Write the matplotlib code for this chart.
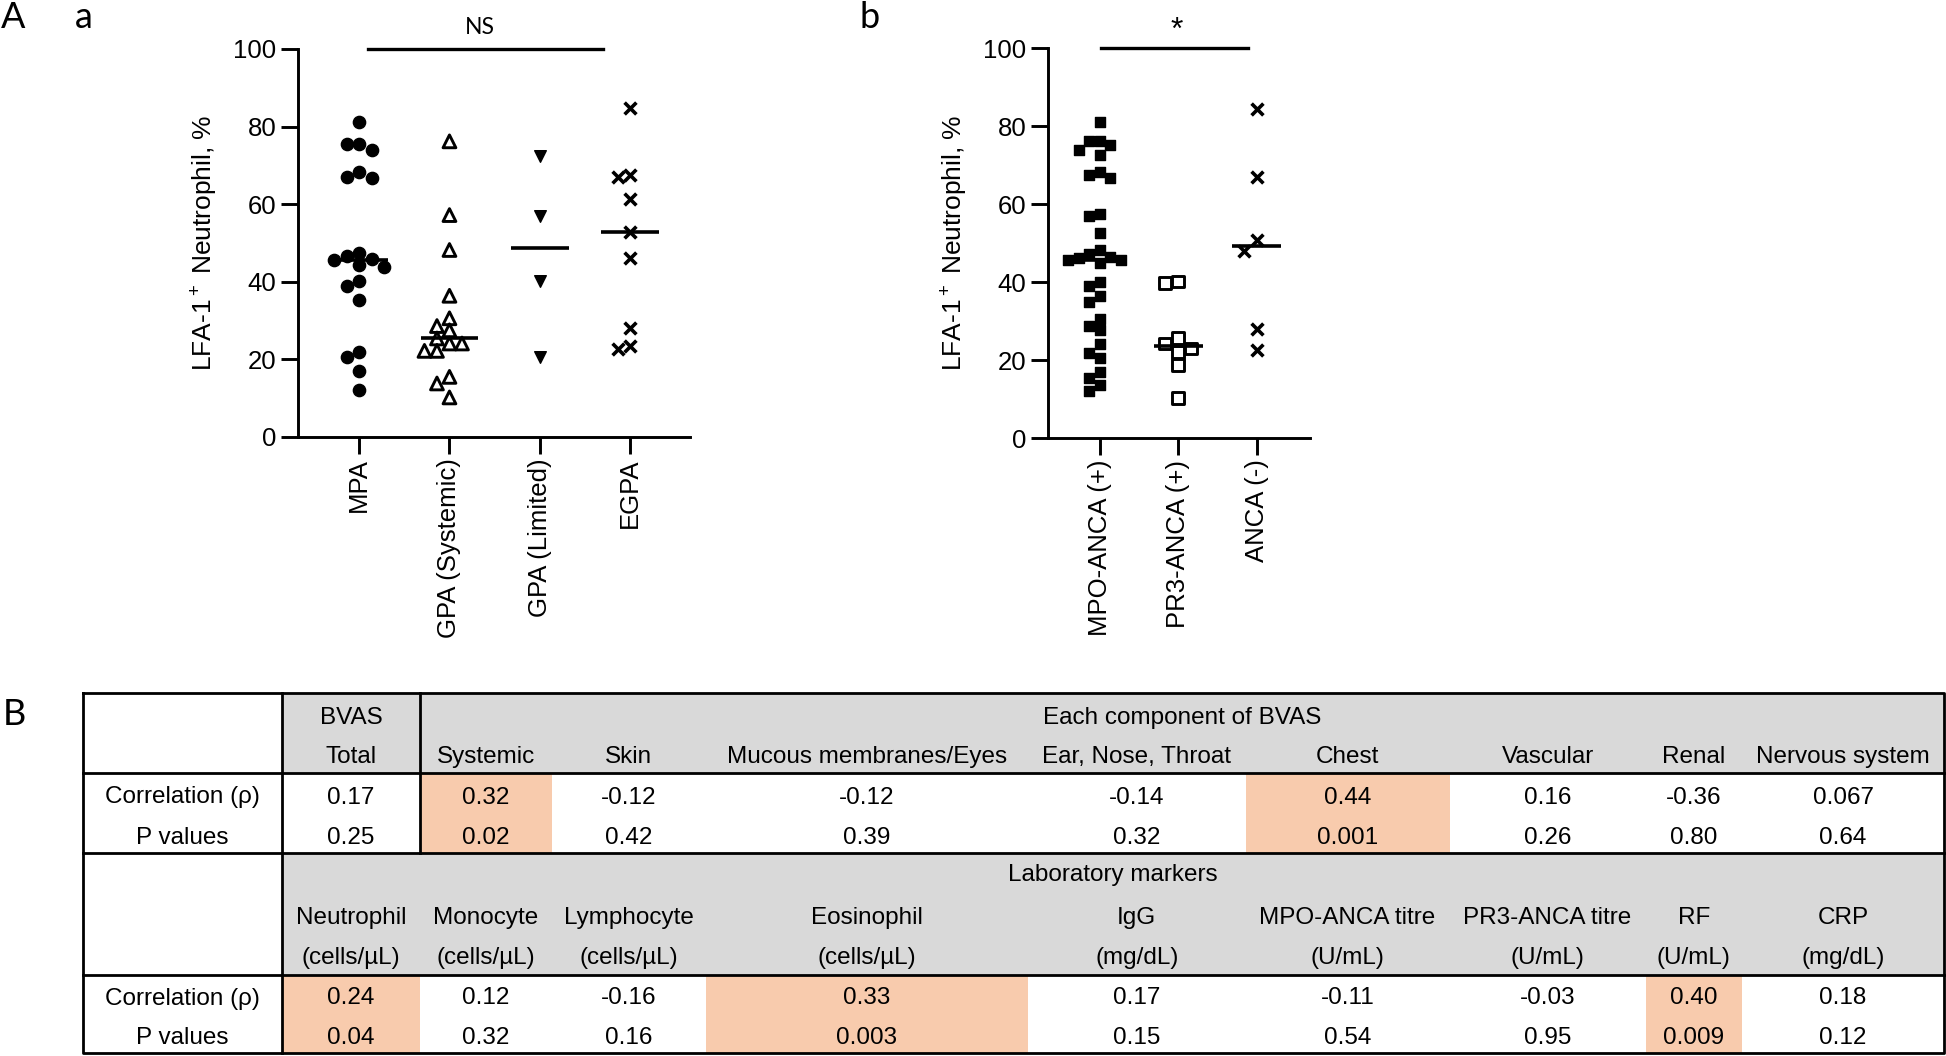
import numpy as np
import matplotlib.pyplot as plt
from matplotlib.patches import Rectangle

plt.rcParams['font.family'] = ['Liberation Sans', 'DejaVu Sans']
plt.rcParams['mathtext.fontset'] = 'custom'
plt.rcParams['mathtext.rm'] = 'Liberation Sans'
plt.rcParams['mathtext.it'] = 'Liberation Sans:italic'
plt.rcParams['mathtext.bf'] = 'Liberation Sans:bold'

W, H = 1946, 1056

# panel a: LFA-1+ neutrophils by disease
groups_a = ['MPA', 'GPA (Systemic)', 'GPA (Limited)', 'EGPA']
mpa = [81.2, 74.0, 75.6, 75.6, 66.7, 68.4, 66.9, 46.7, 47.5, 45.6, 45.8, 44.3,
       43.9, 39.0, 40.2, 35.3, 20.7, 21.9, 17.0, 12.2]
gpa_sys = [76.2, 57.2, 48.2, 36.4, 30.6, 28.6, 27.5, 25.4, 24.1, 24.1, 22.2,
           22.2, 15.5, 13.8, 10.2]
gpa_lim = [72.5, 57.0, 40.2, 20.5]
egpa = [84.9, 66.9, 67.6, 61.3, 52.8, 46.2, 28.0, 22.8, 23.4]

# panel b: by ANCA type
groups_b = ['MPO-ANCA (+)', 'PR3-ANCA (+)', 'ANCA (-)']
mpo = [80.9, 76.1, 72.5, 76.1, 73.9, 75.2, 66.6, 68.3, 67.4, 56.8, 57.4, 52.5,
       45.6, 47.3, 45.6, 48.2, 46.2, 44.8, 46.5, 39.0, 40.1, 35.0, 36.3, 30.5,
       27.7, 28.7, 24.0, 20.6, 21.9, 15.5, 12.1, 17.0, 13.6]
pr3 = [39.7, 40.1, 25.6, 22.1, 23.0, 24.3, 18.7, 10.2]
anca_neg = [84.4, 66.8, 47.9, 50.7, 27.9, 22.6]

# table B
bvas_cols = ['Total', 'Systemic', 'Skin', 'Mucous membranes/Eyes', 'Ear, Nose, Throat',
             'Chest', 'Vascular', 'Renal', 'Nervous system']
bvas_rho = ['0.17', '0.32', '-0.12', '-0.12', '-0.14', '0.44', '0.16', '-0.36', '0.067']
bvas_p = ['0.25', '0.02', '0.42', '0.39', '0.32', '0.001', '0.26', '0.80', '0.64']
lab_cols = ['Neutrophil', 'Monocyte', 'Lymphocyte', 'Eosinophil', 'IgG',
            'MPO-ANCA titre', 'PR3-ANCA titre', 'RF', 'CRP']
lab_units = ['(cells/µL)', '(cells/µL)', '(cells/µL)', '(cells/µL)', '(mg/dL)',
             '(U/mL)', '(U/mL)', '(U/mL)', '(mg/dL)']
lab_rho = ['0.24', '0.12', '-0.16', '0.33', '0.17', '-0.11', '-0.03', '0.40', '0.18']
lab_p = ['0.04', '0.32', '0.16', '0.003', '0.15', '0.54', '0.95', '0.009', '0.12']


def px(x, y):
    return x / W, 1 - y / H


def swarm(ax, vals, size_px, step_px):
    # simple lane-based beeswarm in pixel space
    p0 = ax.transData.transform((0, 0))
    p1 = ax.transData.transform((1, 1))
    sx, sy = p1[0] - p0[0], p1[1] - p0[1]
    vals = np.asarray(vals)
    placed = []
    dx = np.zeros(len(vals))
    for i in np.argsort(vals)[::-1]:
        y = vals[i] * sy
        k = 0
        while True:
            lane = (k + 1) // 2 * (-1 if k % 2 else 1)
            x = lane * step_px
            if all(abs(x - a) >= size_px or abs(y - b) >= size_px for a, b in placed):
                break
            k += 1
        placed.append((x, y))
        dx[i] = x / sx
    return dx


def style(ax, labels):
    for s in ['top', 'right']:
        ax.spines[s].set_visible(False)
    for s in ['left', 'bottom']:
        ax.spines[s].set_linewidth(2.1)
    ax.set_ylim(0, 100)
    ax.set_yticks(range(0, 101, 20))
    ax.set_xticks(range(len(labels)))
    ax.set_xticklabels(labels, rotation=90)
    ax.tick_params(length=12, width=2.1, labelsize=18.5, pad=3.5)
    ax.set_ylabel(r'LFA-1$^+$ Neutrophil, %', fontsize=19)


fig = plt.figure(figsize=(W / 100, H / 100), dpi=100)

# ---- panel a ----
ax1 = fig.add_axes([298 / W, 1 - 437 / H, (690 - 298) / W, (437 - 49) / H])
ax1.set_xlim(-0.675, 3.66)
style(ax1, groups_a)
ax1.yaxis.set_label_coords(-78 / 392, 0.5)

styles_a = [dict(marker='o', s=78, color='black'),
            dict(marker='^', s=85, facecolors='none', edgecolors='black', linewidths=2.1),
            dict(marker='v', s=70, color='black'),
            dict(marker='x', s=72, color='black', linewidths=2.6)]
for i, (vals, st) in enumerate(zip([mpa, gpa_sys, gpa_lim, egpa], styles_a)):
    off = swarm(ax1, vals, 12, 12.5)
    ax1.scatter(i + off, vals, zorder=3, clip_on=False, **st)
    ax1.hlines(np.median(vals), i - 0.32, i + 0.32, color='black', lw=2.6, zorder=2)

ax1.plot([0.1, 2.7], [100, 100], color='black', lw=2.4, clip_on=False)
ax1.text(1.34, 105.5, 'NS', ha='center', va='center', fontsize=16.5, family='Lato')

# ---- panel b ----
ax2 = fig.add_axes([1048 / W, 1 - 438 / H, (1310 - 1048) / W, (438 - 48) / H])
ax2.set_xlim(-0.66, 2.68)
style(ax2, groups_b)
ax2.yaxis.set_label_coords(-78 / 262, 0.5)

styles_b = [dict(marker='s', s=62, color='black'),
            dict(marker='s', s=68, facecolors='none', edgecolors='black', linewidths=2.1),
            dict(marker='x', s=72, color='black', linewidths=2.6)]
for i, (vals, st) in enumerate(zip([mpo, pr3, anca_neg], styles_b)):
    off = swarm(ax2, vals, 10.5, 10.5) if i == 0 else swarm(ax2, vals, 13, 13)
    ax2.scatter(i + off, vals, zorder=3, clip_on=False, **st)
    ax2.hlines(np.median(vals), i - 0.31, i + 0.31, color='black', lw=2.6, zorder=2)

ax2.plot([0.02, 1.89], [100, 100], color='black', lw=2.4, clip_on=False)
ax2.text(0.98, 104.5, '*', ha='center', va='center', fontsize=23)

# panel letters
for t, (x, y) in [('A', (1, 28)), ('a', (75, 28)), ('b', (859, 28)), ('B', (3, 725))]:
    fig.text(*px(x, y), t, fontsize=26, family='Lato', ha='left', va='baseline')

# ---- table B ----
axt = fig.add_axes([0, 0, 1, 1], zorder=-1)
axt.set_xlim(0, W)
axt.set_ylim(H, 0)
axt.axis('off')

left = 83
edges = [282, 420, 551.5, 706, 1028, 1245.6, 1449.5, 1645.6, 1742, 1944]
rows = [693, 773, 853, 975, 1053]
centers = [(a + b) / 2 for a, b in zip(edges[:-1], edges[1:])]
gray, peach = '#d9d9d9', '#f8cbad'
fs = 17.5

axt.add_patch(Rectangle((edges[0], rows[0]), edges[-1] - edges[0], rows[1] - rows[0], color=gray, lw=0))
axt.add_patch(Rectangle((edges[0], rows[2]), edges[-1] - edges[0], rows[3] - rows[2], color=gray, lw=0))
for k, (pv, pl) in enumerate(zip(bvas_p, lab_p)):
    if float(pv) < 0.05:
        axt.add_patch(Rectangle((edges[k], rows[1]), edges[k + 1] - edges[k], rows[2] - rows[1], color=peach, lw=0))
    if float(pl) < 0.05:
        axt.add_patch(Rectangle((edges[k], rows[3]), edges[k + 1] - edges[k], rows[4] - rows[3], color=peach, lw=0))

lw = 2
axt.plot([left, edges[-1], edges[-1], left, left], [rows[0], rows[0], rows[-1], rows[-1], rows[0]], color='black', lw=lw)
for r in rows[1:-1]:
    axt.plot([left, edges[-1]], [r, r], color='black', lw=lw)
axt.plot([edges[0], edges[0]], [rows[0], rows[-1]], color='black', lw=lw)
axt.plot([edges[1], edges[1]], [rows[0], rows[2]], color='black', lw=lw)

kw = dict(ha='center', va='center', fontsize=fs)
axt.text(centers[0], 718, 'BVAS', **kw)
axt.text((edges[1] + edges[-1]) / 2, 718, 'Each component of BVAS', **kw)
axt.text((edges[0] + edges[-1]) / 2, 875, 'Laboratory markers', **kw)
for k in range(9):
    axt.text(centers[k], 757, bvas_cols[k], **kw)
    axt.text(centers[k], 797.5, bvas_rho[k], **kw)
    axt.text(centers[k], 837.5, bvas_p[k], **kw)
    axt.text(centers[k], 918, lab_cols[k], **kw)
    axt.text(centers[k], 958, lab_units[k], **kw)
    axt.text(centers[k], 998.5, lab_rho[k], **kw)
    axt.text(centers[k], 1038.5, lab_p[k], **kw)
lc = (left + edges[0]) / 2
for y0 in (797.5, 998.5):
    axt.text(lc, y0, 'Correlation (ρ)', **kw)
    axt.text(lc, y0 + 40, 'P values', **kw)

fig.savefig('out.png', dpi=100)
